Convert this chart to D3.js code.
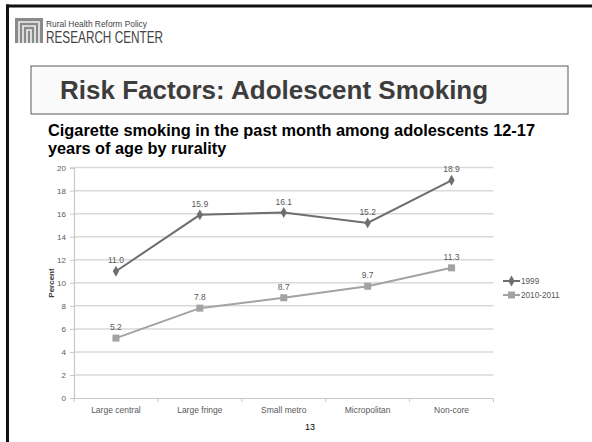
<!DOCTYPE html>
<html>
<head>
<meta charset="utf-8">
<script src="https://cdn.jsdelivr.net/npm/d3@7"></script>
<style>
  html, body { margin: 0; padding: 0; background: #fff; }
  svg { display: block; font-family: "Liberation Sans", Arial, sans-serif; }
</style>
</head>
<body>
<svg id="slide" width="592" height="442"></svg>
<script>
// Rurality categories and past-month smoking rates (percent)
const categories = ["Large central", "Large fringe", "Small metro", "Micropolitan", "Non-core"];
const series1999 = [11.0, 15.9, 16.1, 15.2, 18.9];
const series2010 = [5.2, 7.8, 8.7, 9.7, 11.3];
const seriesNames = ["1999", "2010-2011"];
const yTicks = [0, 2, 4, 6, 8, 10, 12, 14, 16, 18, 20];

const svg = d3.select("#slide");

// Slide frame: heavy rule across the top and down the left side
svg.append("rect").attr("x", 6).attr("y", 4.5).attr("width", 586).attr("height", 3).attr("fill", "#111");
svg.append("rect").attr("x", 6).attr("y", 4.5).attr("width", 3).attr("height", 438).attr("fill", "#111");

// Logo mark
const logo = svg.append("g");
logo.append("rect").attr("x", 15).attr("y", 18).attr("width", 28).attr("height", 25).attr("fill", "#8a8a8a");
logo.append("path")
  .attr("d", "M19,43 V22 H39 V43 M23,43 V26 H35 V43 M27,43 V30 H31 V43")
  .attr("fill", "none").attr("stroke", "#f0f0f0").attr("stroke-width", 1.6);
logo.append("text").attr("x", 46).attr("y", 26.5)
  .attr("font-size", 9.5).attr("fill", "#444")
  .attr("textLength", 101).attr("lengthAdjust", "spacingAndGlyphs")
  .text("Rural Health Reform Policy");
logo.append("text").attr("x", 46).attr("y", 43)
  .attr("font-size", 16.5).attr("fill", "#444")
  .attr("textLength", 117).attr("lengthAdjust", "spacingAndGlyphs")
  .text("RESEARCH CENTER");

// Title box
svg.append("rect").attr("x", 31).attr("y", 66).attr("width", 537).attr("height", 48)
  .attr("fill", "#fafafa").attr("stroke", "#5a5a5a").attr("stroke-width", 1);
svg.append("text").attr("x", 60).attr("y", 98.5)
  .attr("font-size", 26).attr("font-weight", "bold").attr("fill", "#3d3d3d")
  .text("Risk Factors: Adolescent Smoking");

// Chart heading
const heading = svg.append("text").attr("font-size", 16.3).attr("font-weight", "bold").attr("fill", "#000");
heading.append("tspan").attr("x", 48).attr("y", 136)
  .attr("textLength", 487).attr("lengthAdjust", "spacingAndGlyphs")
  .text("Cigarette smoking in the past month among adolescents 12-17");
heading.append("tspan").attr("x", 48).attr("y", 154).text("years of age by rurality");

// Scales
const x = d3.scaleBand().domain(categories).range([74, 493.5]);
const y = d3.scaleLinear().domain([0, 20]).range([398, 167.6]);
const cx = d => x(d) + x.bandwidth() / 2;

// Gridlines
svg.append("g").selectAll("line").data(yTicks.filter(t => t > 0)).join("line")
  .attr("x1", 74).attr("x2", 493.5)
  .attr("y1", d => y(d)).attr("y2", d => y(d))
  .attr("stroke", "#d9d9d9").attr("stroke-width", 1.5);

// Y axis
const yAxis = svg.append("g").attr("transform", "translate(74,0)")
  .call(d3.axisLeft(y).tickValues(yTicks).tickFormat(d3.format("d")).tickSize(4).tickPadding(4));
yAxis.select(".domain").attr("stroke", "#c8c8c8").attr("stroke-width", 1.2);
yAxis.selectAll(".tick line").attr("stroke", "#c8c8c8");
yAxis.selectAll(".tick text").attr("font-size", 8).attr("fill", "#595959")
  .attr("font-family", "Liberation Sans, Arial, sans-serif");

// X axis
const xAxis = svg.append("g").attr("transform", "translate(0,398)")
  .call(d3.axisBottom(x).tickSize(0).tickPadding(9));
xAxis.select(".domain").attr("stroke", "#c8c8c8").attr("stroke-width", 1.2);
xAxis.selectAll(".tick text").attr("font-size", 8.5).attr("fill", "#595959")
  .attr("font-family", "Liberation Sans, Arial, sans-serif");
// Category boundary ticks
const bounds = categories.map(c => x(c)).concat([x.range()[1]]);
svg.append("g").selectAll("line").data(bounds).join("line")
  .attr("x1", d => d).attr("x2", d => d).attr("y1", 398).attr("y2", 402)
  .attr("stroke", "#c8c8c8");

// Y axis title
svg.append("text").attr("transform", "translate(54,283) rotate(-90)")
  .attr("text-anchor", "middle").attr("font-size", 8).attr("font-weight", "bold").attr("fill", "#404040")
  .text("Percent");

// Series
const series = [
  { name: seriesNames[0], values: series1999, color: "#6e6e6e", shape: "diamond" },
  { name: seriesNames[1], values: series2010, color: "#a3a3a3", shape: "square" }
];
const line = d3.line().x((d, i) => cx(categories[i])).y(d => y(d));
const marker = (g, s, px, py) => {
  if (s.shape === "diamond") {
    g.append("path").attr("d", d3.symbol(d3.symbolDiamond, 34)())
      .attr("transform", `translate(${px},${py})`).attr("fill", s.color);
  } else {
    g.append("rect").attr("x", px - 3.5).attr("y", py - 3.5).attr("width", 7).attr("height", 7).attr("fill", s.color);
  }
};

series.forEach(s => {
  const g = svg.append("g");
  g.append("path").datum(s.values).attr("d", line)
    .attr("fill", "none").attr("stroke", s.color).attr("stroke-width", 2);
  s.values.forEach((v, i) => {
    marker(g, s, cx(categories[i]), y(v));
    g.append("text").attr("x", cx(categories[i])).attr("y", y(v) - 8)
      .attr("text-anchor", "middle").attr("font-size", 8.5).attr("fill", "#595959")
      .text(v.toFixed(1));
  });
});

// Legend
series.forEach((s, i) => {
  const ly = 281 + i * 14;
  const g = svg.append("g");
  g.append("line").attr("x1", 503).attr("x2", 520).attr("y1", ly).attr("y2", ly)
    .attr("stroke", s.color).attr("stroke-width", 2);
  marker(g, s, 511.5, ly);
  g.append("text").attr("x", 521).attr("y", ly + 3).attr("font-size", 8.2).attr("fill", "#595959").text(s.name);
});

// Slide number
svg.append("text").attr("x", 310).attr("y", 430).attr("text-anchor", "middle")
  .attr("font-size", 9).attr("fill", "#000").text("13");
</script>
</body>
</html>
